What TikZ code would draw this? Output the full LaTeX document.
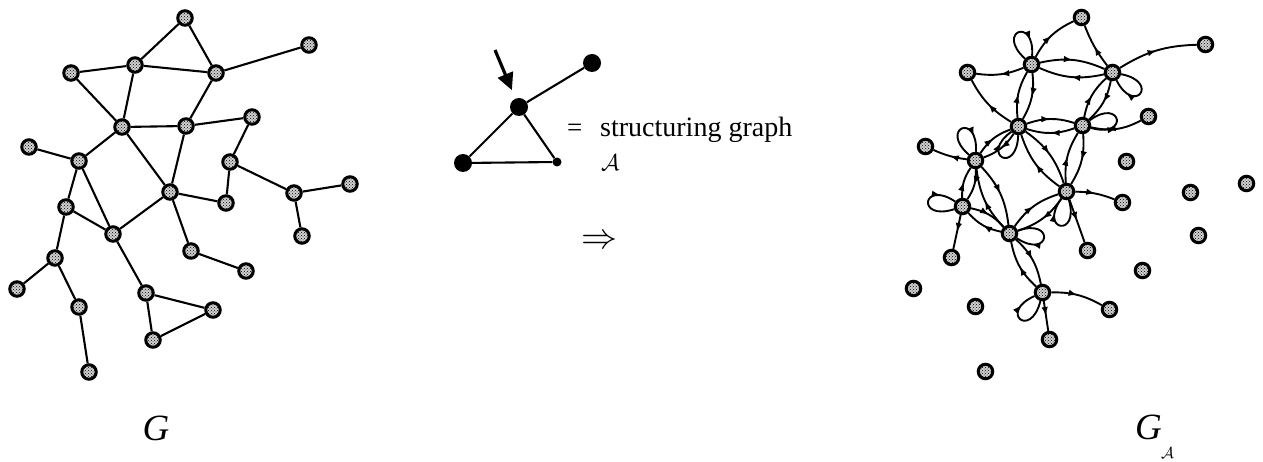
\documentclass[tikz,border=0pt]{standalone}
\usepackage{fontspec}
\usepackage{graphicx}
\setmainfont{Liberation Serif}
\usetikzlibrary{arrows.meta,patterns,decorations.markings}
\begin{document}
\begin{tikzpicture}[x=1pt,y=1pt,
  gn/.style={circle,draw=black,line width=3pt,minimum size=14.5pt,inner sep=0pt,
             preaction={fill=black!18},pattern=crosshatch dots,pattern color=black},
  ge/.style={line width=2.1pt},
  ar/.style={line width=1.9pt,postaction={decorate},
             decoration={markings,mark=at position #1 with {\arrow{Latex[length=9pt,width=6.5pt]}}}},
  ar/.default=0.5,
  bn/.style={circle,fill=black,inner sep=0pt,minimum size=#1},
  lbl/.style={inner sep=0pt,anchor=base west}]
\useasboundingbox (0,0) rectangle (1263,-462);
% nodes of G (left) and G_A (right)
\foreach \i/\x/\y in {1/185/18,2/309/45,3/135/65,4/71/73,5/216/73,6/122/127,7/186/126,
  8/252/117,9/29/147,10/79/161,11/230/162,12/350/184,13/294/193,14/170/192,15/226/203,
  16/66/207,17/113/234,18/302/236,19/55/258,20/191/251,21/246/271,22/17/289,23/146/293,
  24/79/307,25/213/310,26/153/340,27/89/372}{
  \node[gn] (l\i) at (\x,-\y) {};
  \node[gn] (r\i) at (\x+896.5,-\y+0.5) {};
}
% edges of G
\foreach \a/\b in {1/3,1/5,2/5,3/4,3/5,3/6,4/6,5/7,6/7,7/8,8/11,6/10,6/14,7/14,9/10,10/16,
  10/17,11/13,11/15,12/13,13/18,14/15,14/17,14/20,16/17,16/19,17/23,19/22,19/24,20/21,
  23/25,23/26,25/26,24/27}{
  \draw[ge] (l\a) -- (l\b);
}
% G_A : two-way arcs
\foreach \a/\b in {3/5,3/6,5/7,6/7,6/10,6/14,7/14,10/16,10/17,14/17,16/17,17/23}{
  \draw[ar] (r\a) to[bend left=18] (r\b);
  \draw[ar] (r\b) to[bend left=18] (r\a);
}
% G_A : one-way arcs
\foreach \a/\b/\t in {3/1/18,5/1/8,5/2/15,3/4/15,6/4/15,7/8/-20,14/15/10,23/25/15,10/9/8,
  16/19/0,14/20/0,23/26/0}{
  \draw[ar] (r\a) to[bend left=\t] (r\b);
}
% G_A : loops
\foreach \n/\a in {3/112,5/-37,6/-118,7/10,10/113,14/-100,16/172,17/-7,23/-130}{
  \pgfmathsetmacro{\po}{\a+26}
  \pgfmathsetmacro{\pq}{\a-26}
  \draw[ar=0.75] (r\n) to[out=\po,in=\pq,distance=40pt] (r\n);
}
% structuring graph
\node[bn=18pt] (rho) at (519,-107) {};
\node[bn=18pt] (sa) at (592,-63) {};
\node[bn=18pt] (sb) at (463,-163) {};
\node[bn=9pt] (sc) at (557,-162) {};
\draw[ge] (rho) -- (sa);
\draw[ge] (rho) -- (sb);
\draw[ge] (rho) -- (sc);
\draw[ge] (sb) -- (sc);
\coordinate (ast) at (495,-50);
\draw[line width=3.2pt,-{Triangle[length=17pt,width=16pt]},shorten >=9pt] (ast) -- (rho);
\node[lbl,font=\fontsize{27}{30}\selectfont] (eq) at (567,-137) {=};
\node[lbl,font=\fontsize{28}{30}\selectfont] (sg) at (600,-137) {structuring graph};
\node[lbl] (cal) at (601,-171) {\scalebox{2.3}{$\mathcal{A}$}};
\node[inner sep=0pt] (impl) at (599,-242) {\scalebox{3.6}{$\Rightarrow$}};
% captions
\node[font=\fontsize{37}{40}\selectfont\itshape,inner sep=0pt] (gl) at (156,-428) {G};
\node[font=\fontsize{37}{40}\selectfont\itshape,inner sep=0pt,anchor=base east] (gr) at (1162,-439) {G};
\node[inner sep=0pt,anchor=north west] (gsub) at (1161,-447) {\scalebox{1.6}{$\mathcal{A}$}};
\end{tikzpicture}
\end{document}
